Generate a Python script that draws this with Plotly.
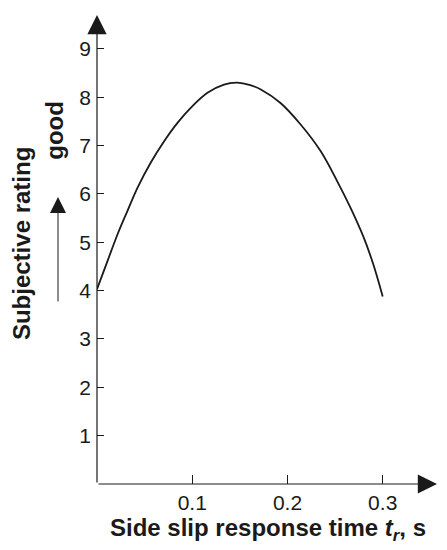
import plotly.graph_objects as go

# ── Data ─────────────────────────────────────────────────────────────
response_time = [0.0, 0.0112, 0.0217, 0.032, 0.0426, 0.0565, 0.0705, 0.0845, 0.0984,
                 0.116, 0.1333, 0.147, 0.161, 0.172, 0.1927, 0.2136, 0.2346, 0.252,
                 0.266, 0.280, 0.290, 0.300]
rating = [4.03, 4.62, 5.17, 5.65, 6.13, 6.65, 7.09, 7.47, 7.78,
          8.09, 8.26, 8.30, 8.25, 8.16, 7.88, 7.44, 6.89, 6.27,
          5.72, 5.10, 4.55, 3.88]

x_ticks = [0.1, 0.2, 0.3]
y_ticks = [1, 2, 3, 4, 5, 6, 7, 8, 9]

X_MAX, Y_MAX = 0.357, 9.7
INK = "#1a1a1a"
FONT = "Liberation Sans, Arial, sans-serif"

fig = go.Figure()
fig.add_trace(go.Scatter(
    x=response_time, y=rating, mode="lines",
    line=dict(color=INK, width=1.8, shape="spline", smoothing=1.0),
    showlegend=False, hoverinfo="skip",
))

annotations = [
    # axis arrows
    dict(x=X_MAX, y=0, ax=0, ay=0, xref="x", yref="y", axref="x", ayref="y",
         showarrow=True, arrowhead=2, arrowsize=3.2, arrowwidth=1.2, arrowcolor=INK, text=""),
    dict(x=0, y=Y_MAX, ax=0, ay=0, xref="x", yref="y", axref="x", ayref="y",
         showarrow=True, arrowhead=2, arrowsize=3.2, arrowwidth=1.2, arrowcolor=INK, text=""),
    # "good" direction arrow
    dict(x=-0.1147, y=0.612, ax=-0.1147, ay=0.386, xref="x domain", yref="y domain",
         axref="x domain", ayref="y domain", showarrow=True, arrowhead=2, arrowsize=3.2,
         arrowwidth=1.0, arrowcolor=INK, text=""),
    # titles
    dict(x=0.503, y=-0.097, xref="paper", yref="paper", showarrow=False,
         text="<b>Side slip response time <i>t<sub>r</sub></i>, s</b>",
         font=dict(family=FONT, size=24, color=INK), xanchor="center", yanchor="middle"),
    dict(x=-0.22, y=0.512, xref="paper", yref="paper", showarrow=False, textangle=-90,
         text="<b>Subjective rating</b>",
         font=dict(family=FONT, size=24, color=INK), xanchor="center", yanchor="middle"),
    dict(x=-0.124, y=0.755, xref="paper", yref="paper", showarrow=False, textangle=-90,
         text="<b>good</b>",
         font=dict(family=FONT, size=24, color=INK), xanchor="center", yanchor="middle"),
]

# page body has an 8px default margin, so the figure is trimmed by 8px
fig.update_layout(
    width=439, height=542,
    margin=dict(l=89, r=10, t=7, b=66),
    paper_bgcolor="white", plot_bgcolor="white",
    font=dict(family=FONT, color=INK, size=21),
    annotations=annotations,
    xaxis=dict(range=[0, X_MAX], tickvals=x_ticks, ticktext=["0.1", "0.2", "0.3"],
               ticks="inside", ticklen=9, tickwidth=1, tickcolor=INK,
               ticklabelstandoff=4,
               showgrid=False, zeroline=False, showline=False,
               tickfont=dict(size=21, color=INK, family=FONT)),
    yaxis=dict(range=[0, Y_MAX], tickvals=y_ticks,
               ticks="inside", ticklen=7, tickwidth=1, tickcolor=INK,
               ticklabelstandoff=5,
               showgrid=False, zeroline=False, showline=False,
               tickfont=dict(size=21, color=INK, family=FONT)),
)

fig.write_html("out.html")
